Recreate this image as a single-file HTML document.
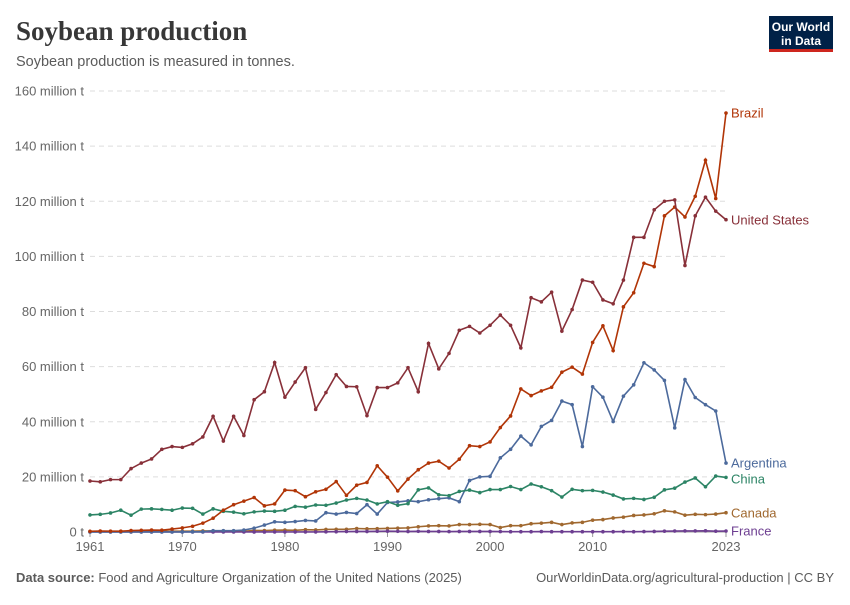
<!DOCTYPE html>
<html><head><meta charset="utf-8"><style>
body{margin:0;background:#fff;font-family:"Liberation Sans",sans-serif}
svg text{font-family:"Liberation Sans",sans-serif}
</style></head><body>
<svg id="c" width="850" height="600" xmlns="http://www.w3.org/2000/svg">
<text x="16" y="40" font-family="Liberation Serif" font-weight="bold" font-size="27" fill="#373737" style="font-family:'Liberation Serif',serif">Soybean production</text>
<text x="16" y="66" font-size="14.5" fill="#5b5b5b">Soybean production is measured in tonnes.</text>
<g>
<rect x="769" y="16" width="64" height="36" fill="#002147"/>
<rect x="769" y="49" width="64" height="3" fill="#ce261e"/>
<text x="801" y="31" font-size="12" fill="#fff" text-anchor="middle" font-weight="bold">Our World</text>
<text x="801" y="45" font-size="12" fill="#fff" text-anchor="middle" font-weight="bold">in Data</text>
</g>
<g id="grid"></g><g id="series"></g>
<text x="16" y="582" font-size="13" fill="#5b5b5b"><tspan font-weight="bold">Data source:</tspan> Food and Agriculture Organization of the United Nations (2025)</text>
<text x="834" y="582" font-size="13" fill="#5b5b5b" text-anchor="end">OurWorldinData.org/agricultural-production | CC BY</text>
</svg>
<script>
const years=[];for(let y=1961;y<=2023;y++)years.push(y);
const yTicks=[0,20,40,60,80,100,120,140,160];
const yTickLabels=["0 t","20 million t","40 million t","60 million t","80 million t","100 million t","120 million t","140 million t","160 million t"];
const xTicks=[1961,1970,1980,1990,2000,2010,2023];
const usa=[18.5,18.2,19,19,23,25,26.5,30,31,30.7,32,34.5,42,33,42,35,48,50.9,61.5,48.9,54.4,59.6,44.5,50.6,57.1,52.8,52.7,42.2,52.4,52.4,54.1,59.6,50.9,68.4,59.2,64.8,73.2,74.6,72.2,75,78.7,75,66.8,85,83.5,87,72.9,80.7,91.4,90.6,84.2,82.8,91.4,106.9,106.9,116.9,120,120.5,96.7,114.7,121.5,116.4,113.3];
const brazil=[0.27,0.35,0.32,0.3,0.52,0.6,0.72,0.65,1.06,1.5,2.08,3.2,5,7.9,9.9,11.2,12.5,9.5,10.2,15.2,15,12.8,14.6,15.5,18.3,13.3,17,18,24,19.9,14.9,19.2,22.6,25,25.7,23.2,26.4,31.3,31,32.7,37.9,42.1,51.9,49.5,51.2,52.5,58,59.8,57.3,68.8,74.8,65.8,81.7,86.8,97.5,96.3,114.7,117.9,114.3,121.8,134.9,121,152];
const argentina=[0,0,0,0,0,0,0,0,0,0.03,0.06,0.08,0.5,0.5,0.5,0.7,1.4,2.5,3.7,3.5,3.8,4.2,4.0,7.0,6.5,7.1,6.7,9.9,6.5,10.7,10.9,11.3,11.0,11.7,12.1,12.4,11.0,18.7,20,20.2,26.9,30,34.8,31.6,38.3,40.5,47.5,46.2,31,52.7,48.9,40.1,49.3,53.4,61.4,58.8,55,37.8,55.3,48.8,46.2,43.9,25];
const china=[6.2,6.4,6.9,7.9,6.1,8.3,8.4,8.2,7.9,8.7,8.6,6.5,8.4,7.5,7.2,6.6,7.3,7.6,7.5,7.9,9.3,9,9.8,9.7,10.5,11.6,12.2,11.6,10.2,11.0,9.7,10.3,15.3,16,13.5,13.2,14.7,15.2,14.3,15.4,15.4,16.5,15.4,17.4,16.4,15,12.7,15.5,15,15.1,14.5,13.4,12,12.2,11.8,12.6,15.3,15.9,18.1,19.6,16.4,20.3,19.8];
const canada=[0.18,0.2,0.2,0.2,0.25,0.25,0.2,0.27,0.28,0.3,0.28,0.38,0.4,0.35,0.35,0.26,0.55,0.52,0.67,0.69,0.6,0.85,0.75,0.93,1.0,0.98,1.27,1.15,1.2,1.3,1.4,1.5,1.9,2.2,2.3,2.2,2.7,2.7,2.8,2.7,1.6,2.3,2.3,3.0,3.2,3.5,2.7,3.3,3.5,4.3,4.5,5.1,5.4,6.0,6.2,6.6,7.7,7.3,6.1,6.4,6.3,6.5,7.0];
const france=[0,0,0,0,0,0,0,0,0,0,0,0,0,0,0,0,0.01,0.02,0.03,0.03,0.03,0.03,0.04,0.06,0.1,0.17,0.2,0.2,0.25,0.3,0.25,0.2,0.25,0.2,0.2,0.15,0.2,0.2,0.2,0.2,0.15,0.1,0.1,0.1,0.15,0.1,0.1,0.1,0.1,0.1,0.1,0.1,0.15,0.1,0.15,0.2,0.3,0.35,0.4,0.4,0.43,0.3,0.35];
const seriesList=[["canada",canada,"#a0682f","Canada",513],["france",france,"#6d3e91","France",531],["argentina",argentina,"#4c6a9c","Argentina",463],["china",china,"#2c8465","China",479],["brazil",brazil,"#b13507","Brazil",113],["united-states",usa,"#883039","United States",220]];
const X=y=>90+(y-1961)*(726-90)/62, Y=v=>532-v*(441/160);
const NS="http://www.w3.org/2000/svg";
function mk(t,a,p){const e=document.createElementNS(NS,t);for(const k in a)e.setAttribute(k,a[k]);p.appendChild(e);return e;}
const g=document.getElementById('grid');
yTicks.forEach((v,i)=>{
 const l=mk('line',{x1:90,x2:726,y1:Y(v),y2:Y(v),stroke:'#ddd','stroke-dasharray':v?'5,4':'',},g);
 
 
 if(!v)l.setAttribute('stroke','#999');
 const t=mk('text',{x:84,y:Y(v)+4.5,'font-size':13,fill:'#666','text-anchor':'end'},g);t.textContent=yTickLabels[i];
 
 
});
xTicks.forEach(yr=>{
 const l=mk('line',{x1:X(yr),x2:X(yr),y1:532,y2:537,stroke:'#999'},g);
 
 
 const t=mk('text',{x:X(yr),y:551,'font-size':13,fill:'#666','text-anchor':'middle'},g);t.textContent=yr;
 
 
});
const s=document.getElementById('series');
seriesList.forEach(([id,d,c,lab,ly])=>{
 const gr=mk('g',{},s);
 
 
 mk('polyline',{points:d.map((v,i)=>X(years[i])+','+Y(v)).join(' '),fill:'none',stroke:c,'stroke-width':1.6},gr);
 d.forEach((v,i)=>mk('circle',{cx:X(years[i]),cy:Y(v),r:1.8,fill:c},gr));
 const t=mk('text',{x:731,y:ly+4.5,'font-size':13,fill:c},gr);t.textContent=lab;
 
 
});
</script>
</body></html>
